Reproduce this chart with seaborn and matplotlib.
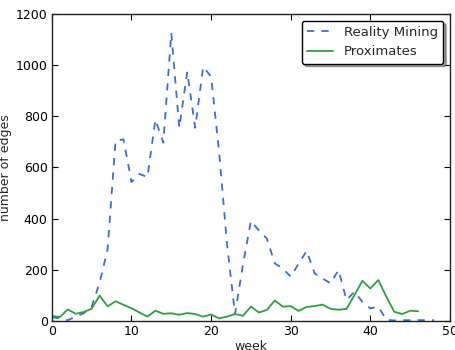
import numpy as np
import pandas as pd
import matplotlib
matplotlib.use("Agg")
import matplotlib.pyplot as plt
import seaborn as sns

weeks_rm = list(range(0, 49))
reality_mining = [15, 10, 3, 17, 30, 56, 150, 280, 705, 710,
                  543, 575, 562, 787, 697, 1126, 755, 974, 755, 994,
                  955, 660, 300, 27, 220, 391, 354, 322, 225, 205,
                  173, 225, 274, 186, 166, 147, 199, 82, 114, 75,
                  49, 56, 4, 2, 3, 3, 3, 3, 3]
weeks_px = list(range(0, 47))
proximates = [20, 15, 45, 28, 35, 48, 99, 57, 77, 63,
              50, 33, 17, 40, 28, 30, 24, 31, 27, 17,
              25, 10, 17, 27, 20, 56, 33, 43, 80, 56,
              58, 39, 55, 58, 64, 47, 44, 47, 101, 157,
              127, 160, 95, 36, 27, 40, 38]

sns.set_style("ticks")
plt.rcParams['font.family'] = ['DejaVu Sans']

fig = plt.figure(figsize=(4.55, 3.5), dpi=100)
ax = fig.add_axes([0.114, 0.083, 0.875, 0.877])

df_rm = pd.DataFrame({"week": weeks_rm, "edges": reality_mining})
df_px = pd.DataFrame({"week": weeks_px, "edges": proximates})

sns.lineplot(data=df_rm, x="week", y="edges", ax=ax, color="#3a6ed4",
             linestyle=(0, (4, 4)), linewidth=1.3, label="Reality Mining")
sns.lineplot(data=df_px, x="week", y="edges", ax=ax, color="#2ca042",
             linewidth=1.3, label="Proximates")

ax.set_xlim(0, 50)
ax.set_ylim(0, 1200)
ax.set_xticks(range(0, 51, 10))
ax.set_yticks(range(0, 1201, 200))
ax.set_xlabel("week", fontsize=9, labelpad=1)
ax.set_ylabel("number of edges", fontsize=9, labelpad=3)
ax.tick_params(direction="in", top=True, right=True, labelsize=9, length=4,
               width=0.8, colors="black", pad=3)
for s in ax.spines.values():
    s.set_visible(True)
    s.set_color("#222222")
    s.set_linewidth(1.0)

leg = ax.legend(loc="upper right", fontsize=9.5, fancybox=True, shadow=True,
                framealpha=1, edgecolor="black", handlelength=2.0,
                borderaxespad=0.5)
leg.get_frame().set_linewidth(1.0)

fig.savefig("out.png", dpi=100)
